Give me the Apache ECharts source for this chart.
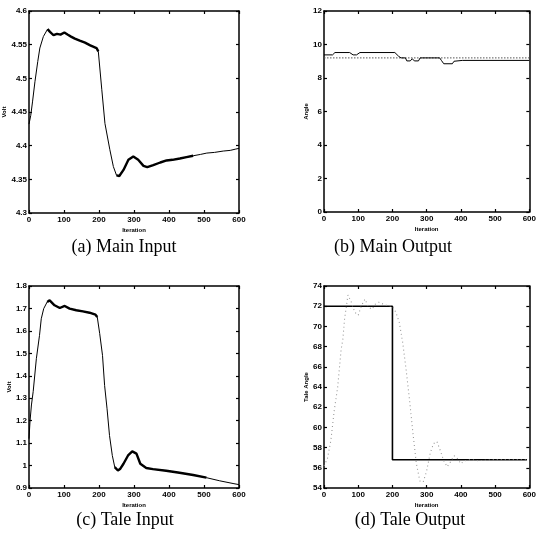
<!DOCTYPE html>
<html><head><meta charset="utf-8">
<script src="https://cdn.jsdelivr.net/npm/echarts@6/dist/echarts.min.js"></script>
<style>html,body{margin:0;padding:0;background:#fff}#c{width:539px;height:540px}</style>
</head><body><div id="c"></div>
<script>
// ---- Data ----
const captions = ['(a) Main Input', '(b) Main Output', '(c) Tale Input', '(d) Tale Output'];
const yNames = ['Volt', 'Angle', 'Volt', 'Tale Angle'];
const xName = 'Iteration';
const xTicks = [0, 100, 200, 300, 400, 500, 600];

// (a) Main Input
const iterA = [0, 5, 10, 17, 25, 31, 41, 53, 60, 70, 80, 90, 101, 110, 120, 131, 145, 160, 175, 193, 198, 208, 217, 231, 241, 250, 258, 270, 284, 298, 312, 327, 338, 355, 375, 393, 410, 431, 450, 469, 490, 508, 530, 555, 575, 591, 600];
const voltA = [4.432, 4.445, 4.465, 4.495, 4.525, 4.545, 4.562, 4.573, 4.569, 4.564, 4.566, 4.565, 4.568, 4.565, 4.562, 4.559, 4.556, 4.553, 4.549, 4.545, 4.540, 4.483, 4.433, 4.394, 4.369, 4.356, 4.355, 4.364, 4.379, 4.384, 4.379, 4.370, 4.368, 4.371, 4.375, 4.378, 4.379, 4.381, 4.383, 4.385, 4.387, 4.389, 4.390, 4.392, 4.393, 4.395, 4.396];
const noisyA = [[45, 198], [245, 470]];

// (b) Main Output
const iterB = [0, 25, 32, 75, 85, 95, 105, 207, 218, 225, 238, 242, 252, 258, 264, 276, 281, 338, 343, 350, 375, 380, 404, 600];
const angleB = [9.38, 9.38, 9.52, 9.52, 9.38, 9.38, 9.52, 9.52, 9.3, 9.2, 9.2, 9.02, 9.02, 9.15, 9.02, 9.02, 9.2, 9.2, 9.05, 8.85, 8.85, 9.0, 9.05, 9.05];
const refIterB = [0, 600];
const refAngleB = [9.2, 9.2];

// (c) Tale Input
const iterC = [0, 3, 7, 12, 21, 30, 35, 42, 52, 59, 73, 88, 102, 116, 135, 154, 173, 190, 195, 202, 210, 216, 223, 230, 238, 245, 254, 261, 270, 283, 295, 307, 318, 335, 354, 392, 430, 469, 507, 545, 583, 600];
const voltC = [1.12, 1.2, 1.27, 1.33, 1.476, 1.58, 1.654, 1.699, 1.729, 1.736, 1.714, 1.702, 1.711, 1.699, 1.692, 1.687, 1.681, 1.672, 1.662, 1.588, 1.491, 1.357, 1.253, 1.134, 1.045, 0.993, 0.978, 0.986, 1.008, 1.045, 1.063, 1.053, 1.008, 0.989, 0.984, 0.977, 0.968, 0.958, 0.946, 0.932, 0.92, 0.915];
const noisyC = [[45, 198], [245, 510]];

// (d) Tale Output
const iterD = [0, 200, 200, 593];
const targetD = [72, 72, 56.8, 56.8];
const iterD2 = [0, 10, 20, 30, 40, 50, 55, 60, 70, 80, 90, 100, 110, 120, 130, 140, 150, 160, 180, 200, 210, 220, 230, 240, 250, 260, 270, 280, 290, 300, 310, 320, 330, 340, 350, 360, 370, 380, 390, 400, 410, 430, 450, 500, 550, 593];
const angleD2 = [56.2, 56.9, 58.7, 61.7, 64.0, 67.7, 68.7, 70.7, 73.1, 72.4, 71.4, 71.1, 72.1, 72.7, 71.9, 71.7, 72.2, 72.4, 72.1, 72.0, 71.4, 70.4, 68.4, 65.7, 62.7, 59.4, 56.4, 54.7, 54.6, 55.7, 57.4, 58.4, 58.6, 57.7, 56.7, 56.1, 56.6, 57.2, 56.9, 56.4, 56.7, 56.8, 56.7, 56.8, 56.8, 56.8];

// ---- Build ----
const pairs = (xs, ys) => xs.map((x, i) => [x, ys[i]]);
const within = (xs, ys, r) => pairs(xs, ys).filter(p => p[0] >= r[0] && p[0] <= r[1]);

const grids = [
  {left: 29, top: 11, width: 210, height: 202},
  {left: 324, top: 11, width: 212, height: 201},
  {left: 29, top: 286, width: 210, height: 202},
  {left: 324, top: 286, width: 212, height: 202}
];
const yRanges = [[4.3, 4.6, 0.05], [0, 12, 2], [0.9, 1.8, 0.1], [54, 74, 2]];
const yNameGaps = [15, 12, 15, 13];

const tickFont = {fontFamily: 'Liberation Sans', fontWeight: 'bold', fontSize: 8, color: '#000'};
const axisLine = {show: true, onZero: false, lineStyle: {color: '#000', width: 1.5}};
const tick = {show: true, inside: true, length: 3, lineStyle: {color: '#000', width: 1.2}};

const xAxes = [], yAxes = [];
for (let g = 0; g < 4; g++) {
  xAxes.push({type: 'value', gridIndex: g, min: 0, max: 600, interval: 100, position: 'bottom',
    axisLine, axisTick: tick, splitLine: {show: false},
    axisLabel: Object.assign({margin: 3}, tickFont),
    name: xName, nameLocation: 'middle', nameGap: 14,
    nameTextStyle: {fontFamily: 'Liberation Sans', fontWeight: 'bold', fontSize: 6, color: '#000'}});
  const r = yRanges[g];
  yAxes.push({type: 'value', gridIndex: g, min: r[0], max: r[1], interval: r[2], position: 'left',
    axisLine, axisTick: tick, splitLine: {show: false},
    axisLabel: Object.assign({margin: 2}, tickFont),
    name: yNames[g], nameLocation: 'middle', nameGap: yNameGaps[g], nameRotate: 90,
    nameTextStyle: {fontFamily: 'Liberation Sans', fontWeight: 'bold', fontSize: 6, color: '#000'}});
}
for (let g = 0; g < 4; g++) {
  xAxes.push({type: 'value', gridIndex: g, min: 0, max: 600, interval: 100, position: 'top',
    axisLine, axisTick: tick, axisLabel: {show: false}, splitLine: {show: false}});
  const r = yRanges[g];
  yAxes.push({type: 'value', gridIndex: g, min: r[0], max: r[1], interval: r[2], position: 'right',
    axisLine, axisTick: tick, axisLabel: {show: false}, splitLine: {show: false}});
}

const line = (g, data, style) => ({type: 'line', xAxisIndex: g, yAxisIndex: g, data, symbol: 'none',
  animation: false, silent: true, lineStyle: Object.assign({color: '#000', width: 1}, style)});

const series = [
  line(0, pairs(iterA, voltA), {width: 1}),
  ...noisyA.map(r => line(0, within(iterA, voltA, r), {width: 2.4})),
  line(1, pairs(refIterB, refAngleB), {color: '#555', width: 1, type: [1.5, 1.5]}),
  line(1, pairs(iterB, angleB), {width: 1}),
  line(2, pairs(iterC, voltC), {width: 1}),
  ...noisyC.map(r => line(2, within(iterC, voltC, r), {width: 2.4})),
  line(3, pairs(iterD, targetD), {width: 1.6}),
  line(3, pairs(iterD2, angleD2), {color: '#999', width: 1.1, type: [1, 3]})
];

const capPos = [[124, 247], [393, 247], [125, 520], [410, 520]];
const graphic = captions.map((t, i) => ({type: 'text', x: capPos[i][0], y: capPos[i][1],
  style: {text: t, fill: '#000', font: '18px "Liberation Serif"', textAlign: 'center', textVerticalAlign: 'middle'}}));

const chart = echarts.init(document.getElementById('c'), null, {renderer: 'canvas'});
chart.setOption({animation: false, backgroundColor: '#fff', grid: grids, xAxis: xAxes, yAxis: yAxes, series, graphic});
</script>
</body></html>
